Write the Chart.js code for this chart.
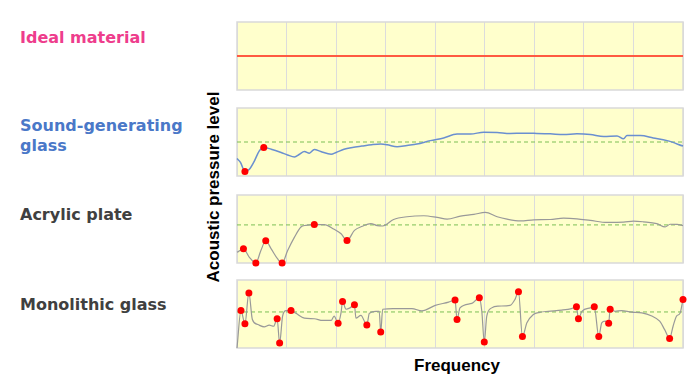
<!DOCTYPE html>
<html>
<head>
<meta charset="utf-8">
<script src="https://cdn.jsdelivr.net/npm/chart.js@4/dist/chart.umd.min.js"></script>
<style>
  html, body { margin: 0; padding: 0; background: #ffffff; width: 695px; height: 378px; overflow: hidden; }
  .lbl { position: absolute; left: 20px; font-family: "DejaVu Sans", Verdana, sans-serif; font-weight: bold; font-size: 16px; line-height: 20px; white-space: nowrap; }
  .axt { position: absolute; font-family: "Liberation Sans", Arial, sans-serif; font-weight: bold; font-size: 17px; line-height: 20px; color: #000; text-align: center; white-space: nowrap; }
  canvas { position: absolute; }
</style>
</head>
<body>
<div class="lbl" style="top:28px;color:#ee3d8c;">Ideal material</div>
<div class="lbl" style="top:116px;color:#4a78c8;">Sound-generating<br>glass</div>
<div class="lbl" style="top:205px;color:#404040;">Acrylic plate</div>
<div class="lbl" style="top:295px;color:#404040;">Monolithic glass</div>
<div class="axt" style="left:84px;top:177px;width:260px;height:20px;transform:rotate(-90deg);">Acoustic pressure level</div>
<div class="axt" style="left:357px;top:356px;width:200px;height:20px;">Frequency</div>

<canvas id="c1"></canvas>
<canvas id="c2"></canvas>
<canvas id="c3"></canvas>
<canvas id="c4"></canvas>

<script>
// ---- Data (frequency in grid columns 0..9, level 0..100 within each panel) ----
const freqRange = [0, 9];

const idealFreq  = [0, 9];
const idealLevel = [50, 50];

const soundFreq  = [0, 0.07, 0.16, 0.25, 0.35, 0.45, 0.54, 0.69, 0.89, 1.02, 1.16, 1.26, 1.36, 1.46, 1.56, 1.69, 1.9, 2.0, 2.16, 2.33, 2.52, 2.72, 2.9, 3.03, 3.23, 3.43, 3.63, 3.9, 4.17, 4.44, 4.71, 4.98, 5.25, 5.51, 5.78, 6.05, 6.32, 6.59, 6.86, 7.13, 7.4, 7.67, 7.8, 7.87, 8.14, 8.4, 8.68, 9];
const soundLevel = [25.7, 20, 6.5, 10, 22, 37, 42, 39.4, 34.6, 31, 28, 32, 36, 33.5, 39, 36, 32, 34.6, 39.4, 42, 44, 46, 47, 46, 43, 45, 47, 52, 56, 61.6, 61.6, 64.5, 64, 62.6, 63, 62.6, 62, 61, 62, 61, 58, 59, 54.7, 59.6, 59.6, 56, 52, 44];
const soundMarks = [2, 6];
const soundRef   = 50;

const acrylicFreq  = [0, 0.13, 0.25, 0.38, 0.48, 0.58, 0.69, 0.82, 0.91, 1.02, 1.16, 1.29, 1.39, 1.56, 1.76, 1.96, 2.1, 2.22, 2.37, 2.53, 2.7, 2.83, 2.94, 3.16, 3.43, 3.77, 4.04, 4.24, 4.51, 4.78, 5.01, 5.25, 5.45, 5.72, 5.99, 6.32, 6.59, 6.86, 7.13, 7.47, 7.8, 8.0, 8.2, 8.47, 8.64, 8.74, 8.88, 9];
const acrylicLevel = [15.7, 20.8, 8.3, 0, 18, 32.7, 20.8, 6, 0, 18, 38, 53, 55.4, 56.5, 56.5, 49.5, 43, 33, 48, 54, 58, 55, 54.4, 64, 68, 69.5, 67, 64.5, 69, 71.4, 74.4, 68, 64.5, 62, 63.5, 64, 66, 65, 62.6, 59.6, 60, 61.6, 60.6, 58, 53, 57, 56.7, 55];
const acrylicMarks = [1, 3, 5, 8, 13, 17];
const acrylicRef   = 56;

const monoFreq  = [0, 0.08, 0.16, 0.24, 0.31, 0.42, 0.55, 0.65, 0.74, 0.81, 0.86, 0.92, 0.99, 1.09, 1.19, 1.36, 1.56, 1.73, 1.9, 1.96, 2.04, 2.1, 2.13, 2.2, 2.28, 2.37, 2.4, 2.5, 2.62, 2.67, 2.8, 2.87, 2.9, 2.94, 3.04, 3.26, 3.53, 3.73, 4.0, 4.27, 4.4, 4.44, 4.5, 4.74, 4.89, 4.94, 4.99, 5.04, 5.14, 5.27, 5.51, 5.61, 5.68, 5.76, 5.85, 5.98, 6.11, 6.28, 6.55, 6.75, 6.85, 6.89, 6.96, 7.13, 7.21, 7.3, 7.36, 7.43, 7.5, 7.53, 7.63, 7.76, 7.96, 8.17, 8.37, 8.53, 8.63, 8.73, 8.8, 8.87, 8.94, 9.0];
const monoLevel = [0, 55, 35.5, 81, 42, 34.5, 31, 33.5, 32, 43, 7.4, 47, 55, 55, 51, 44, 43, 40.5, 40.5, 47, 36.5, 52, 68.5, 57, 59, 63.5, 44, 48, 34, 51, 54, 54, 23.6, 57, 57.6, 58, 58, 54.6, 62.6, 67.5, 70.5, 42, 59, 65.6, 74, 54, 9, 47, 59, 61.6, 62.6, 71.5, 82.7, 16.8, 37, 49.3, 52.5, 54, 55.7, 58, 60.6, 43, 54, 59, 60.6, 16.8, 37, 39.4, 36.5, 57, 54, 55, 52.7, 51.7, 47, 39.4, 27, 14, 32, 47, 51, 71.5];
const monoMarks = [1, 2, 3, 9, 10, 13, 20, 22, 25, 28, 32, 40, 41, 44, 46, 52, 53, 60, 61, 64, 65, 68, 69, 77, 81];
const monoRef   = 53;

// ---- Layout ----
const PAD = 6;
const plotLeft = 237, plotRight = 683, plotH = 68;
const panelTops = [22, 108, 195, 280];

const panelPlugin = {
  id: 'panel',
  beforeDraw(chart) {
    const a = chart.chartArea, c = chart.ctx;
    c.save();
    c.fillStyle = '#ffffcc';
    c.fillRect(a.left, a.top, a.right - a.left, a.bottom - a.top);
    c.restore();
  },
  beforeDatasetsDraw(chart) {
    const a = chart.chartArea, c = chart.ctx;
    c.save();
    c.strokeStyle = '#d9d9d9';
    c.lineWidth = 1.5;
    c.strokeRect(a.left, a.top, a.right - a.left, a.bottom - a.top);
    c.restore();
  }
};

function pts(fx, ly) { return fx.map((f, i) => ({ x: f, y: ly[i] })); }

function makePanel(id, idx, curve, ref) {
  const cv = document.getElementById(id);
  const w = plotRight - plotLeft + 2 * PAD, h = plotH + 2 * PAD;
  cv.width = w; cv.height = h;
  cv.style.width = w + 'px'; cv.style.height = h + 'px';
  cv.style.left = (plotLeft - PAD) + 'px';
  cv.style.top = (panelTops[idx] - PAD) + 'px';
  const datasets = [curve];
  if (ref !== null) {
    datasets.push({
      data: pts(freqRange, [ref, ref]),
      borderColor: '#7cbf55', borderWidth: 1, borderDash: [4, 3],
      pointRadius: 0, fill: false, clip: false
    });
  }
  new Chart(cv, {
    type: 'line',
    data: { datasets },
    options: {
      responsive: false, animation: false, devicePixelRatio: 1, events: [],
      layout: { padding: PAD },
      plugins: { legend: { display: false }, tooltip: { enabled: false } },
      scales: {
        x: { type: 'linear', min: freqRange[0], max: freqRange[1],
             ticks: { display: false, stepSize: 1 },
             grid: { color: '#dcdcdc', lineWidth: 1, drawTicks: false },
             border: { display: false } },
        y: { display: false, min: 0, max: 100 }
      }
    },
    plugins: [panelPlugin]
  });
}

function curveDs(fx, ly, marks, color, width) {
  return {
    data: pts(fx, ly),
    borderColor: color, borderWidth: width, fill: false, clip: false,
    cubicInterpolationMode: 'monotone',
    pointRadius: ctx => marks.includes(ctx.dataIndex) ? 3.5 : 0,
    pointBackgroundColor: '#ff0000', pointBorderColor: '#ff0000', pointBorderWidth: 0,
    pointStyle: 'circle'
  };
}

makePanel('c1', 0, { data: pts(idealFreq, idealLevel), borderColor: '#ff5a42', borderWidth: 1.8, pointRadius: 0, fill: false }, null);
makePanel('c2', 1, curveDs(soundFreq, soundLevel, soundMarks, '#6a8fd0', 1.5), soundRef);
makePanel('c3', 2, curveDs(acrylicFreq, acrylicLevel, acrylicMarks, '#999999', 1.2), acrylicRef);
makePanel('c4', 3, curveDs(monoFreq, monoLevel, monoMarks, '#999999', 1.2), monoRef);
</script>
</body>
</html>
